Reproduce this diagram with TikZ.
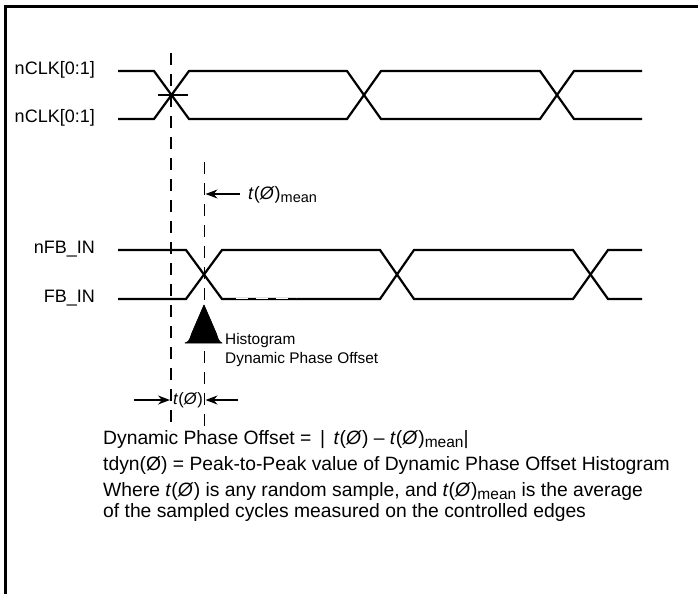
\documentclass[tikz,border=0pt]{standalone}
\usepackage{fontspec}
\setmainfont{Liberation Sans}
\usetikzlibrary{arrows.meta}
\newcommand\msubA[1]{\raisebox{-0.35ex}{\fontsize{14.5}{16}\selectfont #1}}
\newcommand\msubB[1]{\raisebox{-0.3ex}{\fontsize{15.5}{17}\selectfont #1}}
\begin{document}
\begin{tikzpicture}[x=1pt,y=-1pt,
 sig/.style={line width=2.2pt, line join=miter},
 guide/.style={line width=1.6pt, dash pattern=on 12pt off 9pt},
 lbl/.style={font=\fontsize{18}{20}\selectfont, inner sep=0pt, anchor=east},
 body/.style={font=\fontsize{19.3}{22}\selectfont, inner sep=0pt, anchor=base west},
 small/.style={font=\fontsize{15.4}{17}\selectfont, inner sep=0pt, anchor=base west},
 arr/.style={line width=1.3pt, -{Stealth[length=12pt,width=9pt]}},
]
\useasboundingbox (0,0) rectangle (698,594);
\fill[white] (0,0) rectangle (698,594);
% frame
\draw[line width=2.6pt] (5.5,594) -- (5.5,6.3) -- (698,6.3);

% guides
\draw[guide] (171,53) -- (171,431);
\draw[guide] (204.5,162) -- (204.5,431);

% nCLK signals
\draw[sig] (118,71) -- (154,71) -- (189,119) -- (347,119) -- (381,71) -- (540,71) -- (574,119) -- (642,119);
\draw[sig] (118,119) -- (154,119) -- (189,71) -- (347,71) -- (381,119) -- (540,119) -- (574,71) -- (642,71);
\draw[line width=1.1pt] (158,95) -- (188,95);

% FB signals
\draw[sig] (118,250) -- (186,250) -- (222,299) -- (380,299) -- (414,250) -- (573,250) -- (608,299) -- (642,299);
\draw[sig] (118,299) -- (186,299) -- (222,250) -- (380,250) -- (414,299) -- (573,299) -- (608,250) -- (642,250);
\draw[white, line width=0.9pt, dash pattern=on 12pt off 8pt] (236,298.2) -- (296,298.2);

% labels
\node[lbl] (clka) at (95,70) {nCLK[0:1]};
\node[lbl] (clkb) at (95,118) {nCLK[0:1]};
\node[lbl] (nfb) at (95,249) {nFB\_IN};
\node[lbl] (fb) at (95,298) {FB\_IN};

% t mean arrow
\node[lbl, anchor=west] (tmean) at (248,195) {\textit{t}(\textit{Ø})\msubA{mean}};
\coordinate (tmtail) at (240,194);
\coordinate (tmtip) at (205.5,194);
\draw[arr] (tmtail) -- (tmtip);

% histogram
\draw[fill=black, line width=0.8pt, line join=round] (185,343) .. controls (188,342.5) and (190,340) .. (191.5,334)
  -- (204,305) -- (216.5,334) .. controls (218,340) and (220,342.5) .. (222,343) -- cycle;
\node[small] (h1) at (225,344) {Histogram};
\node[small] (h2) at (225,363) {Dynamic Phase Offset};

% t(phi) arrows
\node[font=\fontsize{16.5}{18}\selectfont, inner sep=0pt] (tphi) at (188,400) {\textit{t}(\textit{Ø})};
\coordinate (la) at (134,400);
\coordinate (lb) at (170,400);
\coordinate (ra) at (238,400);
\coordinate (rb) at (205.5,400);
\draw[arr] (la) -- (lb);
\draw[arr] (ra) -- (rb);

% text
\node[body] (f1) at (103,444) {Dynamic Phase Offset = \,|\, \textit{t}(\textit{Ø}) – \textit{t}(\textit{Ø})\msubB{mean}|};
\node[body] (f2) at (103,470) {tdyn(Ø) = Peak-to-Peak value of Dynamic Phase Offset Histogram};
\node[body] (f3) at (103,496) {Where \textit{t}(\textit{Ø}) is any random sample, and \textit{t}(\textit{Ø})\msubB{mean} is the average};
\node[body] (f4) at (103,517) {of the sampled cycles measured on the controlled edges};
\end{tikzpicture}
\end{document}
